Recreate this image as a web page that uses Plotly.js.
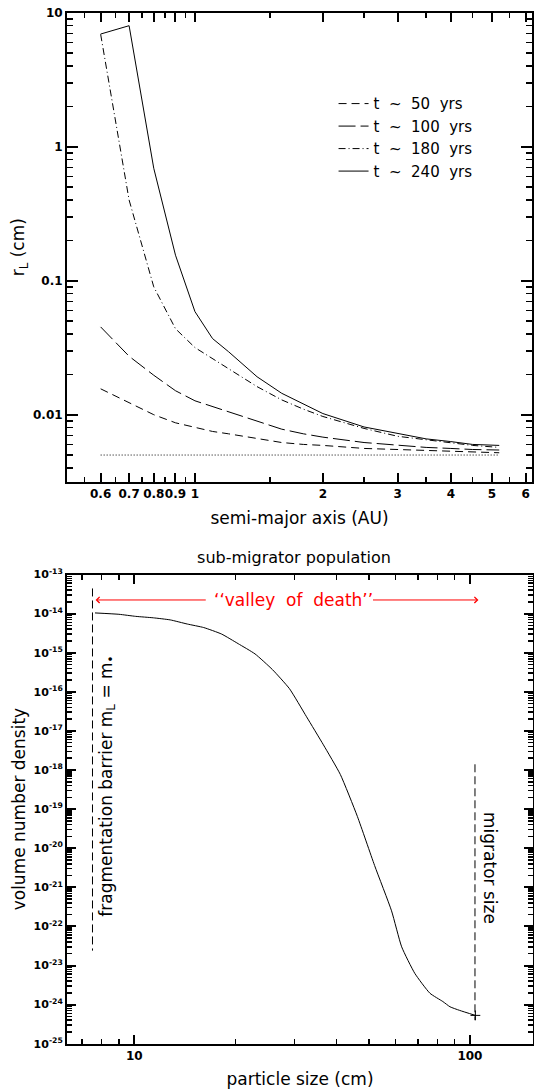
<!DOCTYPE html>
<html><head><meta charset="utf-8">
<script src="https://cdn.plot.ly/plotly-3.0.1.min.js"></script>
<style>html,body{margin:0;padding:0;background:#fff}</style>
</head><body><div id="plot" style="width:534px;height:1089px"></div>
<script>
// ---------- Top panel: r_L vs semi-major axis ----------
const semiMajorAxis = [0.6,0.7,0.8,0.9,1.0,1.1,1.2,1.4,1.6,1.8,2.0,2.5,3.0,3.5,4.0,4.5,5.2];
const rL_50yrs  = [0.0156,0.0122,0.0100,0.0087,0.0080,0.0075,0.0072,0.0066,0.0062,0.0060,0.0059,0.0056,0.0055,0.0054,0.0053,0.0053,0.0052];
const rL_100yrs = [0.0452,0.0273,0.0197,0.0151,0.0127,0.0115,0.0105,0.0089,0.0078,0.0072,0.0068,0.0062,0.0059,0.0057,0.0056,0.0055,0.00545];
const rL_180yrs = [6.9,0.40,0.090,0.0438,0.0317,0.0262,0.0222,0.0162,0.0129,0.0110,0.0097,0.0079,0.0069,0.0065,0.0062,0.0059,0.0057];
const rL_240yrs = [6.93,8.0,0.69,0.155,0.0588,0.037,0.0295,0.0192,0.01445,0.0120,0.0102,0.0081,0.0072,0.0066,0.0063,0.0060,0.0059];
const floorA = [0.6,5.2];
const floorR = [0.005,0.005];
const seriesNames = ['t\u00a0\u00a0~\u00a0\u00a050\u00a0\u00a0yrs','t\u00a0\u00a0~\u00a0\u00a0100\u00a0\u00a0yrs','t\u00a0\u00a0~\u00a0\u00a0180\u00a0\u00a0yrs','t\u00a0\u00a0~\u00a0\u00a0240\u00a0\u00a0yrs'];
const topTickVals = [0.6,0.7,0.8,0.9,1,2,3,4,5,6];
const topTickText = ['0.6','0.7','0.8','0.9','1','2','3','4','5','6'];
const topMinorVals = [0.55,0.65,0.75,0.85,0.95,1.5,2.5,3.5,4.5,5.5];
const topYTickVals = [0.01,0.1,1,10];
const topYTickText = ['0.01','0.1','1','10'];

// ---------- Bottom panel: sub-migrator population ----------
const particleSize = [7.64,9.0,10.1,11.4,12.8,14.4,16.1,18.2,20.4,22.9,25.8,29.0,32.6,36.6,41.1,46.2,52.0,58.4,62.6,68.5,76.0,83.0,87.2,93.2,103.8];
const numberDensity = [1.04e-14,9.6e-15,8.5e-15,7.8e-15,6.9e-15,5.4e-15,4.4e-15,3.0e-15,1.7e-15,9.3e-16,3.7e-16,1.2e-16,2.3e-17,4.4e-18,7.7e-19,6.5e-20,3.6e-21,2.5e-22,3.0e-23,6.3e-24,1.95e-24,1.2e-24,8.8e-25,7.1e-25,5.3e-25];
const fragX = [7.51,7.51];
const fragY = [4.4e-14,2.4e-23];
const migX = [103.5,103.5];
const migY = [1.4e-18,4.0e-25];
const valleyLeft = 7.67, valleyRight = 106, valleyTailL = 16.5, valleyTailR = 50.9, valleyY = 2.23e-14, valleyMid = 29.9;
const botXTickVals = [10,100];
const botXMinor = [7,8,9,20,30,40,50,60,70,80,90];
const botYExps = [-25,-24,-23,-22,-21,-20,-19,-18,-17,-16,-15,-14,-13];

const botYTickVals = botYExps.map(e => Math.pow(10,e));
const botYTickText = botYExps.map(e => '10<sup>-' + Math.abs(e) + '</sup>');
const botYMinor = [];
botYExps.slice(0,-1).forEach(e => { for (let m = 2; m <= 9; m++) botYMinor.push(m*Math.pow(10,e)); });
const topYMinor = [];
[-3,-2,-1,0].forEach(e => { for (let m = 2; m <= 9; m++) { const v = m*Math.pow(10,e); if (v > 0.00317) topYMinor.push(v); } });

const dashes = ['8px,5px','17px,5px','7px,3px,1px,3px','solid'];
const series = [rL_50yrs, rL_100yrs, rL_180yrs, rL_240yrs];
const traces = series.map((ys,i) => ({
  x: semiMajorAxis, y: ys, type:'scatter', mode:'lines', name: seriesNames[i],
  line:{color:'black', width:1, dash:dashes[i]}, xaxis:'x', yaxis:'y'
}));
traces.push({x:floorA, y:floorR, type:'scatter', mode:'lines', showlegend:false,
  line:{color:'black', width:1, dash:'1px,2px'}, xaxis:'x', yaxis:'y'});
traces.push({x:particleSize, y:numberDensity, type:'scatter', mode:'lines', showlegend:false,
  line:{color:'black', width:1, shape:'spline', smoothing:0.5}, xaxis:'x2', yaxis:'y2'});
traces.push({x:[particleSize[particleSize.length-1]], y:[numberDensity[numberDensity.length-1]], type:'scatter', mode:'markers', showlegend:false,
  marker:{symbol:'cross-thin', size:7, line:{color:'black', width:1}}, xaxis:'x2', yaxis:'y2'});
traces.push({x:fragX, y:fragY, type:'scatter', mode:'lines', showlegend:false,
  line:{color:'black', width:1, dash:'8px,4px'}, xaxis:'x2', yaxis:'y2'});
traces.push({x:migX, y:migY, type:'scatter', mode:'lines', showlegend:false,
  line:{color:'black', width:1, dash:'8px,4px'}, xaxis:'x2', yaxis:'y2'});

const FONT = 'DejaVu Sans';
function axisBase(sz){
  return {showline:true, linewidth:2, linecolor:'black', mirror:'allticks', ticks:'inside',
    tickcolor:'#000000', tickwidth:2, showgrid:false, zeroline:false, tickangle:0,
    tickfont:{family:FONT, size:sz, color:'black', weight:'bold'}};
}
function minorSpec(vals, len){
  return {tickmode:'array', tickvals:vals, ticks:'inside', ticklen:len, tickwidth:1.5, tickcolor:'#000000', showgrid:false};
}
const PW = 466, PH = 1032; // plot area size given margins
const layout = {
  width:534, height:1089,
  margin:{l:67, r:1, t:12, b:45},
  paper_bgcolor:'white', plot_bgcolor:'white',
  font:{family:FONT, color:'black'},
  showlegend:true,
  legend:{x:0.572, y:0.927, xanchor:'left', yanchor:'top', bgcolor:'rgba(0,0,0,0)',
    font:{family:FONT, size:15, color:'black'}, tracegroupgap:0},
  title:{text:'sub-migrator population', x:294/534, xref:'container', y:1-557/1089, yref:'container',
    xanchor:'center', yanchor:'middle', font:{family:FONT, size:16, color:'black'}},
  xaxis: Object.assign(axisBase(12), {
    type:'log', range:[Math.log10(0.5), Math.log10(6.21)], domain:[0, 465/PW], anchor:'y',
    tickmode:'array', tickvals:topTickVals, ticktext:topTickText, ticklen:9,
    minor:minorSpec(topMinorVals, 5),
    title:{text:'semi-major axis (AU)', font:{family:FONT, size:17, color:'black'}, standoff:12}
  }),
  yaxis: Object.assign(axisBase(12), {
    type:'log', range:[-2.5, 1], domain:[(1044-481.7)/PH, (1044-12.7)/PH], anchor:'x',
    tickmode:'array', tickvals:topYTickVals, ticktext:topYTickText, ticklen:11,
    minor:minorSpec(topYMinor, 6),
    title:{text:'r<sub>L</sub> (cm)', font:{family:FONT, size:17, color:'black'}, standoff:4}
  }),
  xaxis2: Object.assign(axisBase(12), {
    type:'log', range:[0.7997, 2.1878], domain:[0, 1], anchor:'y2',
    tickmode:'array', tickvals:botXTickVals, ticktext:['10','100'], ticklen:9,
    minor:minorSpec(botXMinor, 5),
    title:{text:'particle size (cm)', font:{family:FONT, size:17, color:'black'}, standoff:14}
  }),
  yaxis2: Object.assign(axisBase(11), {
    type:'log', range:[-25, -13], domain:[(1044-1043.7)/PH, (1044-574.5)/PH], anchor:'x2',
    tickmode:'array', tickvals:botYTickVals, ticktext:botYTickText, ticklen:9,
    minor:minorSpec(botYMinor, 5),
    title:{text:'volume number density', font:{family:FONT, size:17, color:'black'}, standoff:4}
  }),
  annotations:[
    {xref:'x2', yref:'y2', x:Math.log10(valleyMid), y:Math.log10(valleyY), text:'\u2018\u2018valley  of  death\u2019\u2019',
      showarrow:false, font:{family:FONT, size:17, color:'#ff0000'}, xanchor:'center', yanchor:'middle'},
    {xref:'x2', yref:'y2', axref:'x2', ayref:'y2', x:Math.log10(valleyLeft), y:Math.log10(valleyY),
      ax:Math.log10(valleyTailL), ay:Math.log10(valleyY), text:'', showarrow:true, arrowhead:4, arrowsize:1.2,
      arrowwidth:1, arrowcolor:'#ff0000', standoff:0, startstandoff:0},
    {xref:'x2', yref:'y2', axref:'x2', ayref:'y2', x:Math.log10(valleyRight), y:Math.log10(valleyY),
      ax:Math.log10(valleyTailR), ay:Math.log10(valleyY), text:'', showarrow:true, arrowhead:4, arrowsize:1.2,
      arrowwidth:1, arrowcolor:'#ff0000', standoff:0, startstandoff:0},
    {xref:'x2', yref:'y2', x:0.921, y:-18.409, text:'fragmentation barrier m<sub>L</sub> = m<sub>\u2022</sub>',
      textangle:-90, showarrow:false, font:{family:FONT, size:17, color:'black'}, xanchor:'center', yanchor:'middle'},
    {xref:'x2', yref:'y2', x:2.0596, y:-20.506, text:'migrator size',
      textangle:90, showarrow:false, font:{family:FONT, size:17, color:'black'}, xanchor:'center', yanchor:'middle'}
  ]
};
Plotly.newPlot('plot', traces, layout, {displayModeBar:false, staticPlot:true});
</script></body></html>
